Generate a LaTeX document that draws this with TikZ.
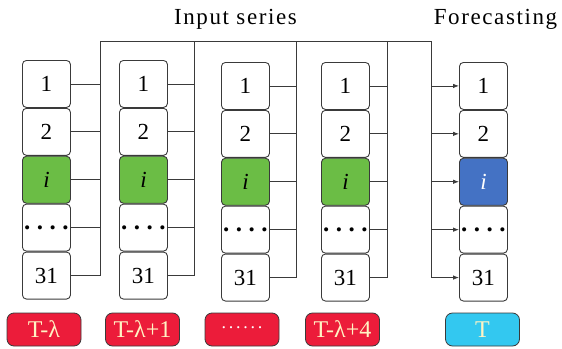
\documentclass[tikz,border=0pt]{standalone}
\usepackage{fontspec}
\setmainfont{Liberation Serif}
\newfontfamily\titlefont[LetterSpace=7]{Liberation Serif}
\usetikzlibrary{arrows.meta}
\definecolor{boxgreen}{HTML}{6BBD45}
\definecolor{boxblue}{HTML}{4472C4}
\definecolor{lblred}{HTML}{EC1C3A}
\definecolor{lblcyan}{HTML}{33C8F0}
\definecolor{lbltext}{HTML}{FFF3C4}
\definecolor{edge}{HTML}{3A3A3A}
\begin{document}
\begin{tikzpicture}[x=1pt,y=-1pt,
  cell/.style={draw=edge, line width=0.9pt, rounded corners=4pt, minimum width=48pt, minimum height=47pt, inner sep=0pt, fill=white, font=\fontsize{23}{26}\selectfont},
  greencell/.style={cell, fill=boxgreen},
  bluecell/.style={cell, fill=boxblue, text=white},
  wire/.style={draw=edge, line width=0.8pt},
  arrowwire/.style={wire, -{Latex[length=6pt,width=4.5pt]}},
  lbl/.style={draw=edge, line width=0.8pt, rounded corners=7pt, minimum width=74pt, minimum height=33pt, inner sep=0pt, fill=lblred, text=lbltext, font=\fontsize{24}{26}\selectfont},
  title/.style={anchor=base, inner sep=0pt, font=\titlefont\fontsize{23}{26}\selectfont}
]
\useasboundingbox (0,0) rectangle (562,348);

% titles
\node[title] (tin) at (235.5,24) {Input series};
\node[title] (tfc) at (495.5,24) {Forecasting};

% columns of cells
\foreach \c/\x/\y in {1/22/60, 2/119/60, 3/221/62, 4/321/62, 5/459/62} {
  \node[cell, anchor=north west] (c\c-1) at (\x,\y) {1};
  \node[cell, anchor=north] (c\c-2) at (c\c-1.south) {2};
  \ifnum\c=5
    \node[bluecell, anchor=north] (c\c-3) at (c\c-2.south) {\textit{i}};
  \else
    \node[greencell, anchor=north] (c\c-3) at (c\c-2.south) {\textit{i}};
  \fi
  \node[cell, anchor=north] (c\c-4) at (c\c-3.south) {\raisebox{-5pt}{\fontsize{25}{26}\selectfont\bfseries .\kern6.5pt.\kern6.5pt.\kern6.5pt.}};
  \node[cell, anchor=north] (c\c-5) at (c\c-4.south) {31};
}

% bus coordinates
\coordinate (t1) at (100,41);
\coordinate (t2) at (194,41);
\coordinate (t3) at (296,41);
\coordinate (t4) at (387,41);
\coordinate (t5) at (431,41);

\foreach \c in {1,2,3,4} {
  \foreach \r in {1,...,5} {
    \draw[wire] (c\c-\r.east) -- (c\c-\r.east -| t\c);
  }
  \draw[wire] (t\c) -- (t\c |- c\c-5.east);
}
\draw[wire] (t1) -- (t5);
\draw[wire] (t5) -- (t5 |- c5-5.west);
\foreach \r in {1,...,5} {
  \draw[arrowwire] (t5 |- c5-\r.west) -- (c5-\r.west);
}

% bottom labels
\node[lbl] (l1) at (44,329.5) {T-λ};
\node[lbl] (l2) at (142.5,329.5) {T-λ+1};
\node[lbl, text=white] (l3) at (242,329.5) {\raisebox{3pt}{\fontsize{18}{20}\selectfont .\kern2.8pt.\kern2.8pt.\kern2.8pt.\kern2.8pt.\kern2.8pt.}};
\node[lbl] (l4) at (342.5,329.5) {T-λ+4};
\node[lbl, fill=lblcyan] (l5) at (482.5,329.5) {T};
\end{tikzpicture}
\end{document}
